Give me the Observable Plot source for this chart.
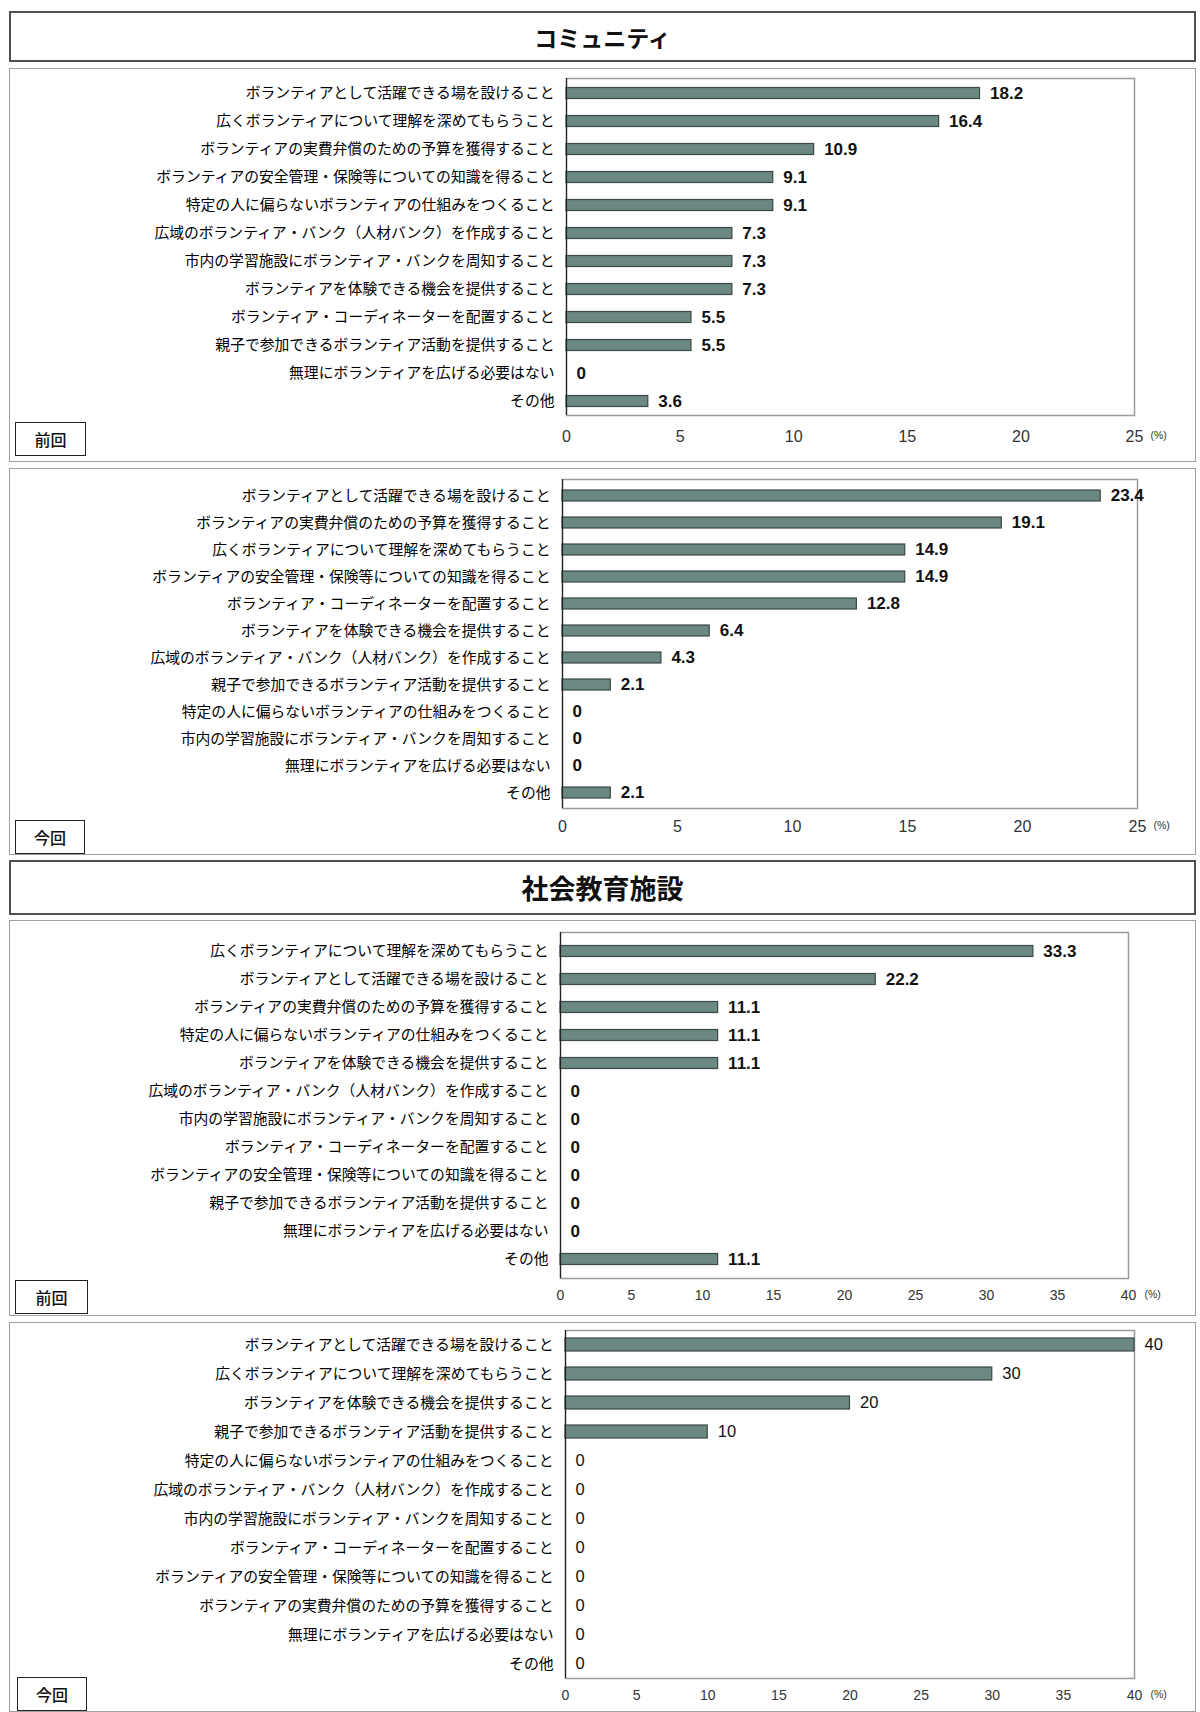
<!DOCTYPE html>
<html lang="ja">
<head>
<meta charset="utf-8">
<script src="https://cdn.jsdelivr.net/npm/d3@7"></script>
<script src="https://cdn.jsdelivr.net/npm/@observablehq/plot@0.6"></script>
<style>
  body { margin: 0; background: #fff; }
  #page { position: relative; width: 1200px; height: 1712px; overflow: hidden; font-family: "Noto Sans CJK JP", sans-serif; background: #fff; }
  .header { position: absolute; box-sizing: border-box; border: 2px solid #505050; display: flex; align-items: center; justify-content: center; font-weight: 700; color: #111; }
  .panel { position: absolute; box-sizing: border-box; border: 1.5px solid #a0a0a0; }
  .tag { position: absolute; box-sizing: border-box; border: 1.5px solid #222; display: flex; align-items: center; justify-content: center; font-size: 16px; font-weight: 500; color: #111; background: #fff; }
  .plot { position: absolute; }
</style>
</head>
<body>
<div id="page"></div>
<script>
// ---- texts ----
const sectionTitles = ["コミュニティ", "社会教育施設"];
const periodTags = ["前回", "今回"];
const unitLabel = "(%)";

// ---- axis ticks ----
const communityTicks = [0, 5, 10, 15, 20, 25];
const socialTicks = [0, 5, 10, 15, 20, 25, 30, 35, 40];

// ---- コミュニティ 前回 ----
const communityPrevLabels = [
  "ボランティアとして活躍できる場を設けること",
  "広くボランティアについて理解を深めてもらうこと",
  "ボランティアの実費弁償のための予算を獲得すること",
  "ボランティアの安全管理・保険等についての知識を得ること",
  "特定の人に偏らないボランティアの仕組みをつくること",
  "広域のボランティア・バンク（人材バンク）を作成すること",
  "市内の学習施設にボランティア・バンクを周知すること",
  "ボランティアを体験できる機会を提供すること",
  "ボランティア・コーディネーターを配置すること",
  "親子で参加できるボランティア活動を提供すること",
  "無理にボランティアを広げる必要はない",
  "その他"
];
const communityPrevValues = [18.2, 16.4, 10.9, 9.1, 9.1, 7.3, 7.3, 7.3, 5.5, 5.5, 0, 3.6];

// ---- コミュニティ 今回 ----
const communityCurrLabels = [
  "ボランティアとして活躍できる場を設けること",
  "ボランティアの実費弁償のための予算を獲得すること",
  "広くボランティアについて理解を深めてもらうこと",
  "ボランティアの安全管理・保険等についての知識を得ること",
  "ボランティア・コーディネーターを配置すること",
  "ボランティアを体験できる機会を提供すること",
  "広域のボランティア・バンク（人材バンク）を作成すること",
  "親子で参加できるボランティア活動を提供すること",
  "特定の人に偏らないボランティアの仕組みをつくること",
  "市内の学習施設にボランティア・バンクを周知すること",
  "無理にボランティアを広げる必要はない",
  "その他"
];
const communityCurrValues = [23.4, 19.1, 14.9, 14.9, 12.8, 6.4, 4.3, 2.1, 0, 0, 0, 2.1];

// ---- 社会教育施設 前回 ----
const socialPrevLabels = [
  "広くボランティアについて理解を深めてもらうこと",
  "ボランティアとして活躍できる場を設けること",
  "ボランティアの実費弁償のための予算を獲得すること",
  "特定の人に偏らないボランティアの仕組みをつくること",
  "ボランティアを体験できる機会を提供すること",
  "広域のボランティア・バンク（人材バンク）を作成すること",
  "市内の学習施設にボランティア・バンクを周知すること",
  "ボランティア・コーディネーターを配置すること",
  "ボランティアの安全管理・保険等についての知識を得ること",
  "親子で参加できるボランティア活動を提供すること",
  "無理にボランティアを広げる必要はない",
  "その他"
];
const socialPrevValues = [33.3, 22.2, 11.1, 11.1, 11.1, 0, 0, 0, 0, 0, 0, 11.1];

// ---- 社会教育施設 今回 ----
const socialCurrLabels = [
  "ボランティアとして活躍できる場を設けること",
  "広くボランティアについて理解を深めてもらうこと",
  "ボランティアを体験できる機会を提供すること",
  "親子で参加できるボランティア活動を提供すること",
  "特定の人に偏らないボランティアの仕組みをつくること",
  "広域のボランティア・バンク（人材バンク）を作成すること",
  "市内の学習施設にボランティア・バンクを周知すること",
  "ボランティア・コーディネーターを配置すること",
  "ボランティアの安全管理・保険等についての知識を得ること",
  "ボランティアの実費弁償のための予算を獲得すること",
  "無理にボランティアを広げる必要はない",
  "その他"
];
const socialCurrValues = [40, 30, 20, 10, 0, 0, 0, 0, 0, 0, 0, 0];

// ---- layout ----
const page = document.getElementById("page");
const PANEL_LEFT = 9, PANEL_WIDTH = 1187;

function addHeader(text, top, height, fontSize) {
  const d = document.createElement("div");
  d.className = "header";
  Object.assign(d.style, {left: PANEL_LEFT + "px", top: top + "px", width: PANEL_WIDTH + "px", height: height + "px", fontSize: fontSize + "px"});
  d.textContent = text;
  page.appendChild(d);
}

function addPanel(cfg) {
  const box = document.createElement("div");
  box.className = "panel";
  Object.assign(box.style, {left: PANEL_LEFT + "px", top: cfg.top + "px", width: PANEL_WIDTH + "px", height: cfg.height + "px"});
  page.appendChild(box);

  const data = cfg.labels.map((label, i) => ({label, value: cfg.values[i]}));
  const xmax = cfg.ticks[cfg.ticks.length - 1];
  const tickFont = "Liberation Sans, Arial, sans-serif";
  const chart = Plot.plot({
    width: PANEL_WIDTH,
    height: cfg.height,
    marginLeft: cfg.frameLeft - PANEL_LEFT,
    marginRight: PANEL_LEFT + PANEL_WIDTH - cfg.frameRight,
    marginTop: cfg.frameTop - cfg.top,
    marginBottom: cfg.top + cfg.height - cfg.frameBottom,
    style: {background: "none", overflow: "visible", fontFamily: tickFont},
    x: {domain: [cfg.ticks[0], xmax]},
    y: {domain: cfg.labels, paddingInner: 0, paddingOuter: 0},
    marks: [
      Plot.frame({stroke: "#9a9a9a", strokeWidth: 1.5}),
      Plot.barX(data.filter(d => d.value > 0), {
        x: "value", y: "label",
        fill: "#6b8883", stroke: "#3a4846", strokeWidth: 1.2,
        insetTop: cfg.inset, insetBottom: cfg.inset
      }),
      Plot.ruleX([0], {stroke: "#222", strokeWidth: 1.2}),
      Plot.axisY({
        tickSize: 0, tickPadding: 12, label: null,
        fontSize: 14.8, fontFamily: "Noto Sans CJK JP, sans-serif", fill: "#000"
      }),
      Plot.axisX({
        ticks: cfg.ticks, tickSize: 0, tickPadding: cfg.tickPad, label: null,
        fontSize: cfg.tickFontSize, fontFamily: tickFont, fill: "#333", tickFormat: d => String(d)
      }),
      Plot.text(data, {
        x: "value", y: "label", text: d => String(d.value),
        dx: 10, textAnchor: "start", fontSize: cfg.bold ? 17 : 16.5,
        fontWeight: cfg.bold ? "bold" : "normal", fontFamily: tickFont, fill: "#111"
      }),
      Plot.text([unitLabel], {
        x: () => xmax, frameAnchor: "bottom", dy: cfg.tickPad + cfg.tickFontSize * 0.55,
        dx: cfg.unitDx, textAnchor: "start", fontSize: 10.5, fontFamily: tickFont, fill: "#333"
      })
    ]
  });
  chart.classList.add("plot");
  Object.assign(chart.style, {left: PANEL_LEFT + "px", top: cfg.top + "px"});
  page.appendChild(chart);

  const tag = document.createElement("div");
  tag.className = "tag";
  Object.assign(tag.style, {left: cfg.tag[0] + "px", top: cfg.tag[1] + "px", width: cfg.tag[2] + "px", height: cfg.tag[3] + "px"});
  tag.textContent = cfg.tagText;
  page.appendChild(tag);
}

addHeader(sectionTitles[0], 11, 51, 23);

addPanel({
  labels: communityPrevLabels, values: communityPrevValues, ticks: communityTicks,
  top: 68, height: 394, frameLeft: 566, frameRight: 1134, frameTop: 78, frameBottom: 415,
  inset: 8.5, tickPad: 15, tickFontSize: 16, bold: true, unitDx: 16,
  tag: [15, 422, 71, 34], tagText: periodTags[0]
});

addPanel({
  labels: communityCurrLabels, values: communityCurrValues, ticks: communityTicks,
  top: 468, height: 387, frameLeft: 562, frameRight: 1137, frameTop: 479, frameBottom: 808,
  inset: 8, tickPad: 12, tickFontSize: 16, bold: true, unitDx: 16,
  tag: [15, 820, 70, 34], tagText: periodTags[1]
});

addHeader(sectionTitles[1], 860, 55, 27);

addPanel({
  labels: socialPrevLabels, values: socialPrevValues, ticks: socialTicks,
  top: 920, height: 396, frameLeft: 560, frameRight: 1128, frameTop: 932, frameBottom: 1278,
  inset: 8.5, tickPad: 12, tickFontSize: 14, bold: true, unitDx: 16,
  tag: [15, 1280, 73, 34], tagText: periodTags[0]
});

addPanel({
  labels: socialCurrLabels, values: socialCurrValues, ticks: socialTicks,
  top: 1322, height: 390, frameLeft: 565, frameRight: 1134, frameTop: 1330, frameBottom: 1678,
  inset: 8, tickPad: 12, tickFontSize: 14, bold: false, unitDx: 16,
  tag: [17, 1677, 70, 34], tagText: periodTags[1]
});
</script>
</body>
</html>
